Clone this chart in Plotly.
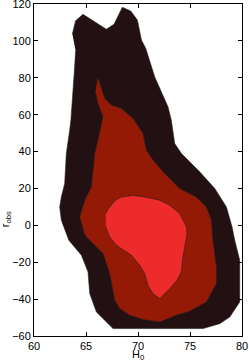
import plotly.graph_objects as go

# Contour levels (outer -> inner)
outer_x = [63.69, 64.0, 64.71, 66.96, 67.69, 68.5, 69.3, 69.94, 70.33, 70.74, 71.6, 72.4, 72.88, 73.2,
           73.53, 74.17, 75.93, 77.38, 78.5, 79.04, 79.3, 79.78, 79.78, 78.82, 77.86, 76.25, 67.6,
           66.0, 65.36, 65.19, 64.56, 63.35, 62.63, 62.47, 62.63, 62.95, 63.11, 63.43, 63.55, 63.91, 64.0]
outer_y = [103.7, 110.9, 114.4, 106.3, 109.0, 118.2, 116.2, 111.3, 100.5, 96.0, 80.6, 70.6, 64.3, 57.1,
           44.4, 39.0, 29.0, 20.0, 10.0, -0.8, -8.1, -18.9, -41.5, -49.7, -53.3, -56.0, -56.0,
           -47.0, -37.0, -25.2, -16.2, -8.1, 2.8, 10.0, 15.4, 22.7, 39.0, 51.6, 57.1, 86.0, 94.7]

mid_x = [66.15, 66.32, 66.8, 67.44, 68.4, 69.52, 70.48, 70.8, 71.44, 72.57, 74.0, 75.6, 76.58, 77.06,
         77.2, 77.54, 77.54, 76.58, 74.97, 73.69, 72.09, 70.48, 69.2, 68.24, 67.76, 67.28, 66.63,
         65.36, 64.88, 64.39, 64.88, 65.52, 65.84, 66.15, 66.63, 66.15, 65.9]
mid_y = [80.2, 77.0, 68.8, 65.2, 63.4, 58.0, 49.8, 40.8, 35.4, 28.1, 20.0, 15.4, 10.0, 2.8,
         -8.1, -22.5, -31.6, -41.5, -46.6, -48.7, -52.4, -51.1, -48.7, -45.1, -40.6, -26.1, -15.3,
         -8.1, -5.3, 4.6, 13.6, 20.9, 39.0, 46.2, 58.9, 66.1, 72.4]

inner_x = [66.9, 67.1, 67.76, 68.4, 69.52, 70.64, 72.09, 73.05, 74.0, 74.65, 74.71, 74.49, 74.27,
           74.17, 73.75, 73.05, 72.09, 71.44, 70.96, 70.64, 70.16, 69.37, 67.92, 67.28, 66.9]
inner_y = [6.4, 8.6, 13.3, 15.4, 16.2, 15.4, 13.6, 10.9, 6.4, -0.8, -4.4, -11.7, -18.9,
           -25.2, -29.8, -34.3, -39.7, -37.0, -32.5, -26.1, -21.6, -16.2, -10.8, -6.3, -0.8]

x_ticks = [60, 65, 70, 75, 80]
y_ticks = [-60, -40, -20, 0, 20, 40, 60, 80, 100, 120]

fig = go.Figure()
for xs, ys, col in [(outer_x, outer_y, "#231013"), (mid_x, mid_y, "#951a06"), (inner_x, inner_y, "#ee2b2b")]:
    fig.add_trace(go.Scatter(x=xs, y=ys, fill="toself", fillcolor=col, mode="lines",
                             line=dict(color="#222222", width=0.6), hoverinfo="skip", showlegend=False))

font = dict(family="Liberation Sans, Arial, sans-serif", size=11, color="#000000")
axis_common = dict(showgrid=False, zeroline=False, showline=True, linecolor="#000000", linewidth=1,
                   mirror="ticks", ticks="inside", ticklen=4, tickcolor="#000000", tickfont=font,
                   automargin=False, ticklabeloverflow="allow")
fig.update_layout(
    width=249, height=364,
    margin=dict(l=34, r=7, t=4, b=28, autoexpand=False),
    paper_bgcolor="white", plot_bgcolor="white",
    font=font,
    xaxis=dict(range=[60, 80], tickvals=x_ticks, **axis_common),
    yaxis=dict(range=[-60, 120], tickvals=y_ticks, **axis_common),
    annotations=[
        dict(text="H<sub>0</sub>", xref="paper", yref="paper", x=0.5, y=-0.058, xanchor="center",
             yanchor="middle", showarrow=False, font=font),
        dict(text="r<sub>obs</sub>", xref="paper", yref="paper", x=-0.134, y=0.352, xanchor="center",
             yanchor="middle", textangle=-90, showarrow=False, font=font),
    ],
)
fig.write_html("out.html", config={"displayModeBar": False},
               post_script="document.body.style.margin='0';document.body.style.overflow='hidden';")
